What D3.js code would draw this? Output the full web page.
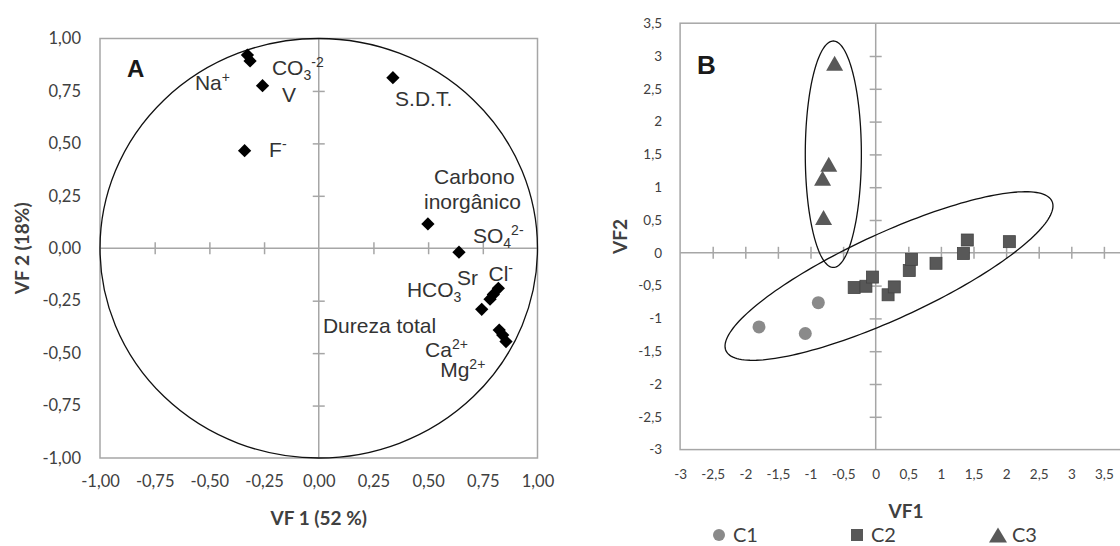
<!DOCTYPE html>
<html><head><meta charset="utf-8">
<script src="https://cdn.jsdelivr.net/npm/d3@7"></script>
<style>
html,body{margin:0;padding:0;background:#fff;}
svg{display:block;}
</style></head><body>
<svg id="chart" width="1120" height="546"></svg>
<script>
// ---- Panel A: variable loadings on VF1 / VF2 ----
const loadingVF1 = [-0.326, -0.314, -0.257, -0.339, 0.339, 0.499, 0.641, 0.821, 0.798, 0.783, 0.745, 0.825, 0.841, 0.856];
const loadingVF2 = [0.921, 0.893, 0.775, 0.465, 0.813, 0.116, -0.019, -0.191, -0.220, -0.243, -0.291, -0.390, -0.414, -0.445];
const aTickValues = [-1, -0.75, -0.5, -0.25, 0, 0.25, 0.5, 0.75, 1];
const aCrossTicks = [-0.75, -0.5, -0.25, 0.25, 0.5, 0.75];

// ---- Panel B: sample scores, grouped C1 / C2 / C3 ----
const c1VF1 = [-1.79, -1.08, -0.88];
const c1VF2 = [-1.13, -1.23, -0.76];
const c2VF1 = [-0.33, -0.15, -0.05, 0.19, 0.285, 0.515, 0.55, 0.925, 1.345, 1.405, 2.05];
const c2VF2 = [-0.53, -0.51, -0.37, -0.64, -0.52, -0.27, -0.10, -0.16, -0.01, 0.195, 0.17];
const c3VF1 = [-0.63, -0.72, -0.815, -0.80];
const c3VF2 = [2.89, 1.35, 1.135, 0.54];
const bXTickValues = [-3, -2.5, -2, -1.5, -1, -0.5, 0, 0.5, 1, 1.5, 2, 2.5, 3, 3.5];
const bYTickValues = [-3, -2.5, -2, -1.5, -1, -0.5, 0, 0.5, 1, 1.5, 2, 2.5, 3, 3.5];
const bXCross = [-2.5, -2, -1.5, -1, -0.5, 0.5, 1, 1.5, 2, 2.5, 3, 3.5];
const bYCross = [-2.5, -2, -1.5, -1, -0.5, 0.5, 1, 1.5, 2, 2.5, 3];
// group outlines in score units: centre, half-width along VF1, half-height along VF2, shear
const groupOutlines = [
  {cx: -0.65, cy: 1.503, rx: 0.43, ry: 1.726, shear: 0},
  {cx: 0.204, cy: -0.354, rx: 2.515, ry: 0.713, shear: 0.425}
];
const legendItems = ["C1", "C2", "C3"];

const svg = d3.select("#chart");
const GRID = "#a6a6a6";
const TXT = "#404040";
const tickFont = "Lato, 'Open Sans', sans-serif";
const labelFont = "'Liberation Sans', Arial, sans-serif";

const fmtA = d => d3.format(".2f")(d).replace(".", ",").replace("−", "-");
const fmtB = d => String(d).replace(".", ",");

// ================= Panel A =================
const xA = d3.scaleLinear().domain([-1, 1]).range([100, 537.5]);
const yA = d3.scaleLinear().domain([-1, 1]).range([458, 38.5]);
const gA = svg.append("g");

gA.append("rect")
  .attr("x", xA(-1)).attr("y", yA(1))
  .attr("width", xA(1) - xA(-1)).attr("height", yA(-1) - yA(1))
  .attr("fill", "none").attr("stroke", GRID).attr("stroke-width", 1.5);

gA.append("line").attr("x1", xA(-1)).attr("x2", xA(1)).attr("y1", yA(0)).attr("y2", yA(0))
  .attr("stroke", GRID).attr("stroke-width", 1.5);
gA.append("line").attr("x1", xA(0)).attr("x2", xA(0)).attr("y1", yA(1)).attr("y2", yA(-1))
  .attr("stroke", GRID).attr("stroke-width", 1.5);

// cross tick marks on the zero axes
function crossTicks(g, axis) {
  g.call(axis);
  g.select(".domain").remove();
  g.selectAll(".tick line").attr("stroke", GRID).attr("stroke-width", 1.5);
  g.selectAll(".tick text").remove();
}
gA.append("g").attr("transform", `translate(0,${yA(0) - 6})`)
  .call(g => crossTicks(g, d3.axisBottom(xA).tickValues(aCrossTicks).tickSize(12)));
gA.append("g").attr("transform", `translate(${xA(0) - 6},0)`)
  .call(g => crossTicks(g, d3.axisRight(yA).tickValues(aCrossTicks).tickSize(12)));

function styleLabels(g, size) {
  g.select(".domain").remove();
  g.attr("font-family", tickFont).attr("font-size", size);
  g.selectAll(".tick text").attr("fill", TXT);
}
gA.append("g").attr("transform", `translate(${xA(-1)},0)`)
  .call(d3.axisLeft(yA).tickValues(aTickValues).tickFormat(fmtA).tickSize(0).tickPadding(19))
  .call(g => styleLabels(g, "16.5px"));
gA.append("g").attr("transform", `translate(0,${yA(-1)})`)
  .call(d3.axisBottom(xA).tickValues(aTickValues).tickFormat(fmtA).tickSize(0).tickPadding(17))
  .call(g => styleLabels(g, "16.5px"));

// unit correlation circle
gA.append("ellipse")
  .attr("cx", xA(0)).attr("cy", yA(0))
  .attr("rx", xA(1) - xA(0)).attr("ry", yA(0) - yA(1))
  .attr("fill", "none").attr("stroke", "#111").attr("stroke-width", 1.3);

const diamond = d3.symbol(d3.symbolSquare, 88);
gA.selectAll("path.load").data(d3.range(loadingVF1.length)).join("path")
  .attr("class", "load")
  .attr("d", diamond)
  .attr("transform", i => `translate(${xA(loadingVF1[i])},${yA(loadingVF2[i])}) rotate(45)`)
  .attr("fill", "#000");

// variable names (anchor = text start / baseline in loading units)
const varLabels = [
  {x: -0.566, y: 0.754, parts: [["Na"], ["+", "sup"]]},
  {x: -0.214, y: 0.826, parts: [["CO"], ["3", "sub"], ["-2", "sup"]]},
  {x: -0.168, y: 0.697, parts: [["V"]]},
  {x: -0.227, y: 0.435, parts: [["F"], ["-", "sup"]]},
  {x: 0.349, y: 0.678, parts: [["S.D.T."]]},
  {x: 0.527, y: 0.306, parts: [["Carbono"]]},
  {x: 0.481, y: 0.187, parts: [["inorgânico"]]},
  {x: 0.705, y: 0.025, parts: [["SO"], ["4", "sub"], ["2-", "sup"]]},
  {x: 0.632, y: -0.175, parts: [["Sr"]]},
  {x: 0.776, y: -0.158, parts: [["Cl"], ["-", "sup"]]},
  {x: 0.403, y: -0.232, parts: [["HCO"], ["3", "sub"], ["-", "sup"]]},
  {x: 0.019, y: -0.404, parts: [["Dureza total"]]},
  {x: 0.486, y: -0.518, parts: [["Ca"], ["2+", "sup"]]},
  {x: 0.555, y: -0.614, parts: [["Mg"], ["2+", "sup"]]}
];
varLabels.forEach(l => {
  const t = gA.append("text")
    .attr("x", xA(l.x)).attr("y", yA(l.y))
    .attr("font-family", labelFont).attr("font-size", "21px").attr("fill", "#333");
  let cur = 0;
  l.parts.forEach(([s, kind]) => {
    const target = kind === "sub" ? 5 : kind === "sup" ? -8 : 0;
    t.append("tspan").text(s)
      .attr("dy", target - cur)
      .attr("font-size", kind ? "14px" : null);
    cur = target;
  });
});

gA.append("text").attr("x", 127).attr("y", 77)
  .attr("font-family", labelFont).attr("font-weight", "bold").attr("font-size", "24px")
  .attr("fill", "#1a1a1a").text("A");

gA.append("text").attr("x", xA(0)).attr("y", 525).attr("text-anchor", "middle")
  .attr("font-family", tickFont).attr("font-weight", "bold").attr("font-size", "19px")
  .attr("fill", TXT).text("VF 1 (52 %)");
gA.append("text").attr("transform", `translate(29,${yA(0)}) rotate(-90)`).attr("text-anchor", "middle")
  .attr("font-family", tickFont).attr("font-weight", "bold").attr("font-size", "19px")
  .attr("fill", TXT).text("VF 2 (18%)");

// ================= Panel B =================
const xB = d3.scaleLinear().domain([-3, 4]).range([680.1, 1136.5]);
const yB = d3.scaleLinear().domain([-3, 3.5]).range([449.6, 23.2]);
const gB = svg.append("g");

gB.append("rect")
  .attr("x", xB(-3)).attr("y", yB(3.5))
  .attr("width", xB(4) - xB(-3)).attr("height", yB(-3) - yB(3.5))
  .attr("fill", "none").attr("stroke", GRID).attr("stroke-width", 1.5);
gB.append("line").attr("x1", xB(-3)).attr("x2", xB(4)).attr("y1", yB(0)).attr("y2", yB(0))
  .attr("stroke", GRID).attr("stroke-width", 1.5);
gB.append("line").attr("x1", xB(0)).attr("x2", xB(0)).attr("y1", yB(3.5)).attr("y2", yB(-3))
  .attr("stroke", GRID).attr("stroke-width", 1.5);

gB.append("g").attr("transform", `translate(0,${yB(0) - 6})`)
  .call(g => crossTicks(g, d3.axisBottom(xB).tickValues(bXCross).tickSize(12)));
gB.append("g").attr("transform", `translate(${xB(0) - 6},0)`)
  .call(g => crossTicks(g, d3.axisRight(yB).tickValues(bYCross).tickSize(12)));

gB.append("g").attr("transform", `translate(${xB(-3)},0)`)
  .call(d3.axisLeft(yB).tickValues(bYTickValues).tickFormat(fmtB).tickSize(0).tickPadding(18))
  .call(g => styleLabels(g, "13.5px"));
gB.append("g").attr("transform", `translate(0,${yB(-3)})`)
  .call(d3.axisBottom(xB).tickValues(bXTickValues).tickFormat(fmtB).tickSize(0).tickPadding(20))
  .call(g => styleLabels(g, "13.5px"));

// group outlines
const outline = d3.line().curve(d3.curveLinearClosed);
groupOutlines.forEach(e => {
  const pts = d3.range(0, 2 * Math.PI, Math.PI / 90).map(t => [
    xB(e.cx + e.rx * Math.cos(t)),
    yB(e.cy + e.shear * e.rx * Math.cos(t) + e.ry * Math.sin(t))
  ]);
  gB.append("path").attr("d", outline(pts))
    .attr("fill", "none").attr("stroke", "#111").attr("stroke-width", 1.3);
});

const C1 = "#8a8a8a", C2 = "#585858", C3 = "#595959";
const tri = "M0,-7.5L8.5,7.5L-8.5,7.5Z";

gB.selectAll("circle.c1").data(d3.range(c1VF1.length)).join("circle")
  .attr("class", "c1").attr("cx", i => xB(c1VF1[i])).attr("cy", i => yB(c1VF2[i]))
  .attr("r", 6.5).attr("fill", C1);
gB.selectAll("rect.c2").data(d3.range(c2VF1.length)).join("rect")
  .attr("class", "c2").attr("x", i => xB(c2VF1[i]) - 6).attr("y", i => yB(c2VF2[i]) - 6)
  .attr("width", 12).attr("height", 12).attr("fill", C2).attr("stroke", "#444").attr("stroke-width", 0.8);
gB.selectAll("path.c3").data(d3.range(c3VF1.length)).join("path")
  .attr("class", "c3").attr("d", tri)
  .attr("transform", i => `translate(${xB(c3VF1[i])},${yB(c3VF2[i])})`)
  .attr("fill", C3);

gB.append("text").attr("x", 697).attr("y", 74)
  .attr("font-family", labelFont).attr("font-weight", "bold").attr("font-size", "26px")
  .attr("fill", "#1a1a1a").text("B");

gB.append("text").attr("x", 906).attr("y", 518).attr("text-anchor", "middle")
  .attr("font-family", tickFont).attr("font-weight", "bold").attr("font-size", "19px")
  .attr("fill", TXT).text("VF1");
gB.append("text").attr("transform", `translate(627,${(yB(3.5) + yB(-3)) / 2}) rotate(-90)`)
  .attr("text-anchor", "middle")
  .attr("font-family", tickFont).attr("font-weight", "bold").attr("font-size", "19px")
  .attr("fill", TXT).text("VF2");

// legend
const legendX = [719, 857, 998];
const lg = gB.append("g");
lg.append("circle").attr("cx", legendX[0]).attr("cy", 535).attr("r", 6).attr("fill", C1);
lg.append("rect").attr("x", legendX[1] - 6).attr("y", 529).attr("width", 12).attr("height", 12).attr("fill", C2);
lg.append("path").attr("d", "M0,-7.5L9,7.5L-9,7.5Z").attr("transform", `translate(${legendX[2]},535)`).attr("fill", C3);
legendItems.forEach((name, i) => {
  lg.append("text").attr("x", legendX[i] + 14).attr("y", 541.5)
    .attr("font-family", tickFont).attr("font-size", "20px").attr("fill", TXT).text(name);
});
</script>
</body></html>
